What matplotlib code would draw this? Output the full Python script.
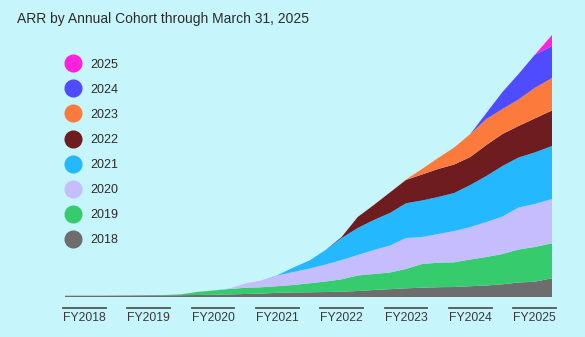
import matplotlib
matplotlib.use("Agg")
import matplotlib.pyplot as plt
from matplotlib.lines import Line2D
from matplotlib.transforms import IdentityTransform

plt.rcParams['font.family'] = ['Liberation Sans', 'DejaVu Sans']

# quarterly points on a fiscal-year axis (arbitrary units)
years = [2017.7, 2018.0, 2018.25, 2018.5, 2018.75, 2019.0, 2019.25, 2019.5, 2019.75,
         2020.0, 2020.25, 2020.5, 2020.75, 2021.0, 2021.25, 2021.5, 2021.75,
         2022.0, 2022.25, 2022.5, 2022.75, 2023.0, 2023.25, 2023.5, 2023.75,
         2024.0, 2024.25, 2024.5, 2024.75, 2025.0, 2025.27]

c2018 = [1.3, 1.3, 1.3, 1.4, 1.5, 1.6, 1.7, 1.8, 2.0, 2.2, 2.6, 3.0, 3.4, 4.2, 4.6, 4.7,
         5.0, 5.3, 6.0, 7.0, 7.8, 8.7, 9.3, 9.8, 10.0, 10.8, 11.5, 12.7, 14.5, 15.3, 18.7]
c2019 = [0, 0, 0, 0, 0, 0.1, 0.3, 0.8, 3.0, 4.3, 5.4, 6.2, 6.3, 6.6, 7.4, 9.0,
         10.5, 12.4, 15.5, 16.0, 16.7, 19.3, 23.7, 24.5, 24.7, 26.7, 28.5, 30.3, 33.0, 34.7, 35.0]
c2020 = [0, 0, 0, 0, 0, 0, 0, 0, 0, 0, 0.5, 4.3, 6.8, 10.7, 13.0, 14.8,
         17.0, 19.3, 20.5, 24.0, 27.0, 31.0, 27.0, 28.7, 31.3, 32.5, 35.0, 37.5, 42.0, 43.0, 44.3]
c2021 = [0, 0, 0, 0, 0, 0, 0, 0, 0, 0, 0, 0, 0, 0.3, 4.5, 8.0,
         14.5, 22.0, 27.0, 30.0, 32.5, 34.7, 36.5, 37.0, 38.0, 42.0, 46.0, 50.5, 50.0, 51.5, 53.0]
c2022 = [0, 0, 0, 0, 0, 0, 0, 0, 0, 0, 0, 0, 0, 0, 0, 0,
         0, 1.0, 11.0, 15.0, 20.5, 23.3, 26.0, 28.0, 28.5, 28.0, 31.0, 32.0, 31.5, 34.0, 35.5]
c2023 = [0, 0, 0, 0, 0, 0, 0, 0, 0, 0, 0, 0, 0, 0, 0, 0,
         0, 0, 0, 0, 0, 0.5, 5.5, 11.0, 17.0, 23.0, 26.0, 25.0, 26.5, 30.5, 32.5]
c2024 = [0, 0, 0, 0, 0, 0, 0, 0, 0, 0, 0, 0, 0, 0, 0, 0,
         0, 0, 0, 0, 0, 0, 0, 0, 0, 0, 6.0, 17.0, 25.5, 33.0, 32.0]
c2025 = [0, 0, 0, 0, 0, 0, 0, 0, 0, 0, 0, 0, 0, 0, 0, 0,
         0, 0, 0, 0, 0, 0, 0, 0, 0, 0, 0, 0, 0, 0, 11.0]

cohorts = ["2018", "2019", "2020", "2021", "2022", "2023", "2024", "2025"]
colors = ["#6d6d6d", "#36cc6e", "#c5bdfd", "#23b8ff", "#6e1c1f", "#fb7a3c", "#4f4bff", "#ff22dd"]
tick_years = [2018, 2019, 2020, 2021, 2022, 2023, 2024, 2025]
tick_labels = ["FY2018", "FY2019", "FY2020", "FY2021", "FY2022", "FY2023", "FY2024", "FY2025"]

BG = "#c6f6fb"
W, H = 585, 337

fig = plt.figure(figsize=(W / 100, H / 100), dpi=100)
fig.patch.set_facecolor(BG)
ax = fig.add_axes([65 / W, 40 / H, 487 / W, 267 / H])
ax.set_facecolor(BG)

ax.stackplot(years, c2018, c2019, c2020, c2021, c2022, c2023, c2024, c2025,
             colors=colors, linewidth=0)
ax.set_xlim(years[0], years[-1])
ax.set_ylim(0, 267)
for s in ax.spines.values():
    s.set_visible(False)
ax.set_yticks([])
ax.set_xticks(tick_years)
ax.set_xticklabels(tick_labels)
ax.tick_params(axis='x', length=0, pad=11, labelsize=8.8, labelcolor='#3a3a3a')

# legend, newest cohort on top
handles = [Line2D([], [], marker='o', linestyle='none', markersize=12,
                  markerfacecolor=c, markeredgecolor=c) for c in colors[::-1]]
fig.legend(handles, cohorts[::-1], loc='upper left',
           bbox_to_anchor=(67 / W, 1 - 58.5 / H), frameon=False, fontsize=9,
           labelspacing=1.05, handlelength=1.0, handletextpad=0.9,
           borderpad=0, borderaxespad=0, labelcolor='#2b2b2b')

fig.text(17 / W, 1 - 19 / H, "ARR by Annual Cohort through March 31, 2025",
         fontsize=10, color='#2b2b2b', ha='left', va='center')

# line over each tick label
fig.canvas.draw()
renderer = fig.canvas.get_renderer()
for lab in ax.get_xticklabels():
    bb = lab.get_window_extent(renderer)
    y = bb.y1 + 4
    fig.add_artist(Line2D([bb.x0, bb.x1], [y, y], transform=IdentityTransform(),
                          color='#555555', linewidth=1.3))

fig.savefig("out.png", dpi=100, facecolor=BG)
